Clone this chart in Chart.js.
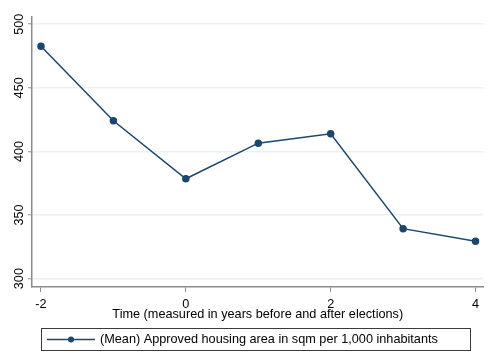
<!DOCTYPE html>
<html>
<head>
<meta charset="utf-8">
<script src="https://cdn.jsdelivr.net/npm/chart.js@4.4.1/dist/chart.umd.min.js"></script>
<style>
  html, body { margin: 0; padding: 0; background: #ffffff; }
  #wrap { width: 489px; height: 354px; position: relative; }
</style>
</head>
<body>
<div id="wrap"><canvas id="c" width="489" height="354"></canvas></div>
<script>
// Years relative to the election year and the mean approved housing area
const years = [-2, -1, 0, 1, 2, 3, 4];
const approvedArea = [482.7, 424.1, 378.5, 406.5, 413.9, 339.3, 329.3];
const xTickValues = [-2, 0, 2, 4];
const yTickValues = [300, 350, 400, 450, 500];
const seriesLabel = '(Mean) Approved housing area in sqm per 1,000 inhabitants';
const xTitle = 'Time (measured in years before and after elections)';

const NAVY = '#1a476f';
const AXIS = '#8c8c8c';
const GRID = '#eaf1f3';
const FONT = 'Arial, "Liberation Sans", sans-serif';
const FSIZE = 12.7;

// Boxed legend below the x-axis title: line sample with marker and label
const boxedLegend = {
  id: 'boxedLegend',
  afterDraw(chart) {
    const ctx = chart.ctx;
    const ds = chart.data.datasets[0];
    const x0 = 41, y0 = 328, w = 429, h = 22;
    ctx.save();
    ctx.strokeStyle = '#3a3a3a';
    ctx.lineWidth = 1;
    ctx.strokeRect(x0 + 0.5, y0 + 0.5, w, h);
    const cy = y0 + h / 2 + 0.5;
    ctx.strokeStyle = ds.borderColor;
    ctx.lineWidth = 1.5;
    ctx.beginPath();
    ctx.moveTo(47, cy);
    ctx.lineTo(95, cy);
    ctx.stroke();
    ctx.fillStyle = ds.pointBackgroundColor;
    ctx.beginPath();
    ctx.arc(71, cy, 3, 0, Math.PI * 2);
    ctx.fill();
    ctx.fillStyle = '#000000';
    ctx.font = FSIZE + 'px ' + FONT;
    ctx.textBaseline = 'middle';
    ctx.textAlign = 'left';
    ctx.fillText(ds.label, 100, cy);
    ctx.restore();
  }
};

new Chart(document.getElementById('c'), {
  type: 'line',
  data: {
    labels: years,
    datasets: [{
      label: seriesLabel,
      data: years.map((t, i) => ({ x: t, y: approvedArea[i] })),
      borderColor: NAVY,
      backgroundColor: NAVY,
      pointBackgroundColor: NAVY,
      pointBorderColor: NAVY,
      borderWidth: 1.5,
      pointRadius: 3,
      tension: 0,
      fill: false
    }]
  },
  options: {
    responsive: false,
    animation: false,
    devicePixelRatio: 1,
    layout: { padding: { top: 17, right: 5, bottom: 30, left: 0 } },
    plugins: {
      legend: { display: false },
      tooltip: { enabled: false }
    },
    scales: {
      x: {
        type: 'linear',
        min: -2.124,
        max: 4.11,
        afterBuildTicks: s => { s.ticks = xTickValues.map(v => ({ value: v })); },
        afterFit: s => { s.height = 37; },
        grid: { drawOnChartArea: false, drawTicks: true, tickLength: 5, tickColor: AXIS, tickWidth: 1 },
        border: { color: AXIS, width: 1.5 },
        ticks: { color: '#000', font: { family: FONT, size: FSIZE }, padding: 5, maxRotation: 0, autoSkip: false },
        title: { display: true, text: xTitle, color: '#000', font: { family: FONT, size: FSIZE }, padding: { top: 0, bottom: 2 } }
      },
      y: {
        min: 293.4,
        max: 505.7,
        afterBuildTicks: s => { s.ticks = yTickValues.map(v => ({ value: v })); },
        afterFit: s => { s.width = 32; },
        grid: { color: GRID, lineWidth: 1.5, drawTicks: true, tickLength: 4, tickColor: AXIS, tickWidth: 1 },
        border: { color: AXIS, width: 1.5 },
        ticks: { color: '#000', font: { family: FONT, size: FSIZE }, minRotation: 90, maxRotation: 90, crossAlign: 'center', padding: -2, autoSkip: false }
      }
    }
  },
  plugins: [boxedLegend]
});
</script>
</body>
</html>
